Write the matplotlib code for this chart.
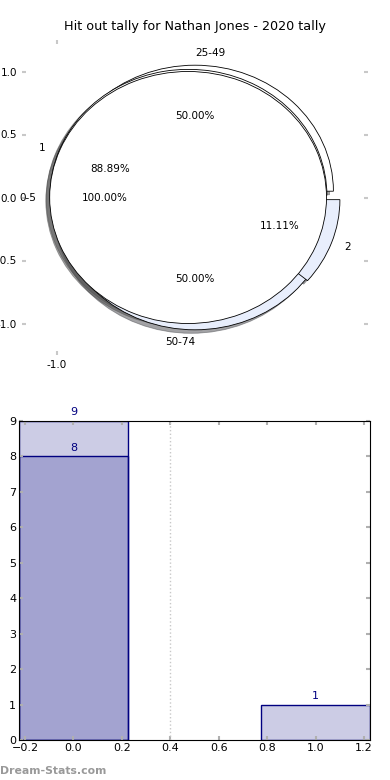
import matplotlib
matplotlib.use("Agg")
import matplotlib.pyplot as plt
from matplotlib.ticker import FormatStrFormatter

# pie data (three pies drawn on the same axes)
kick_labels = ["25-49", "50-74"]
kick_values = [1, 1]
result_labels = ["1", "2"]
result_values = [8, 1]
range_labels = ["0-5"]
range_values = [9]

# bar data
bar_x = [0, 1]
bar_totals = [9, 1]
bar_wins_x = [0]
bar_wins = [8]
y_ticks = [0, 1, 2, 3, 4, 5, 6, 7, 8, 9]
x_ticks = [-0.2, 0.0, 0.2, 0.4, 0.6, 0.8, 1.0, 1.2]

title = "Hit out tally for Nathan Jones - 2020 tally"
pie_colors = ["white", "#e8eefc"]

fig = plt.figure(figsize=(3.9, 7.8), dpi=100)

# top: pies
ax1 = fig.add_axes([22 / 390, 1 - 355 / 780, 346 / 390, 315 / 780])
tp = {"fontsize": 7.5}
for labels, values in [(kick_labels, kick_values), (result_labels, result_values),
                       (range_labels, range_values)]:
    wedges, texts, pcts = ax1.pie(values, labels=labels, colors=pie_colors[:len(values)],
                                  explode=[0.05] * len(values), autopct="%.2f%%", shadow=True,
                                  wedgeprops={"edgecolor": "black", "linewidth": 0.6},
                                  textprops=tp)
    # labels sitting straight above / below the centre
    for t in texts:
        x, y = t.get_position()
        if abs(x) < 1e-6:
            t.set_ha("left" if y > 0 else "right")
ax1.set_aspect("auto")
ax1.set_xlim(-1.25, 1.25)
ax1.set_ylim(-1.25, 1.25)
ax1.set_frame_on(False)
ax1.set_xticks([-1.0])
ax1.set_yticks([-1.0, -0.5, 0.0, 0.5, 1.0])
ax1.xaxis.set_major_formatter(FormatStrFormatter("%.1f"))
ax1.yaxis.set_major_formatter(FormatStrFormatter("%.1f"))
ax1.tick_params(direction="in", length=3, width=1.5, color="#c8c8c8",
                labelsize=7.5, top=True, right=True)
ax1.set_title(title, fontsize=9.2, pad=7)

# bottom: bars
ax2 = fig.add_axes([19 / 390, 1 - 740 / 780, 351 / 390, 319 / 780])
ax2.bar(bar_x, bar_totals, width=0.45, color="navy", alpha=0.2, edgecolor="none")
ax2.bar(bar_x, bar_totals, width=0.45, fill=False, edgecolor="navy", linewidth=1)
ax2.bar(bar_wins_x, bar_wins, width=0.45, color="navy", alpha=0.2, edgecolor="none")
ax2.bar(bar_wins_x, bar_wins, width=0.45, fill=False, edgecolor="navy", linewidth=1)
for x, v in zip(bar_x, bar_totals):
    ax2.text(x, v + 0.1, str(v), ha="center", va="bottom", color="navy", fontsize=8)
for x, v in zip(bar_wins_x, bar_wins):
    ax2.text(x, v + 0.1, str(v), ha="center", va="bottom", color="navy", fontsize=8)
ax2.axvline(0.4, color="#c8c8c8", linestyle=":", linewidth=1)
ax2.set_xlim(-0.225, 1.225)
ax2.set_ylim(0, 9)
ax2.set_xticks(x_ticks)
ax2.set_yticks(y_ticks)
ax2.tick_params(direction="in", length=3, width=1.5, color="#b0b0b0",
                labelsize=8, top=True, right=True, pad=2)

fig.text(0.0, 0.005, "Dream-Stats.com", color="#999999", fontsize=7.8,
         fontweight="bold", ha="left", va="bottom")

fig.savefig("out.png", dpi=100)
